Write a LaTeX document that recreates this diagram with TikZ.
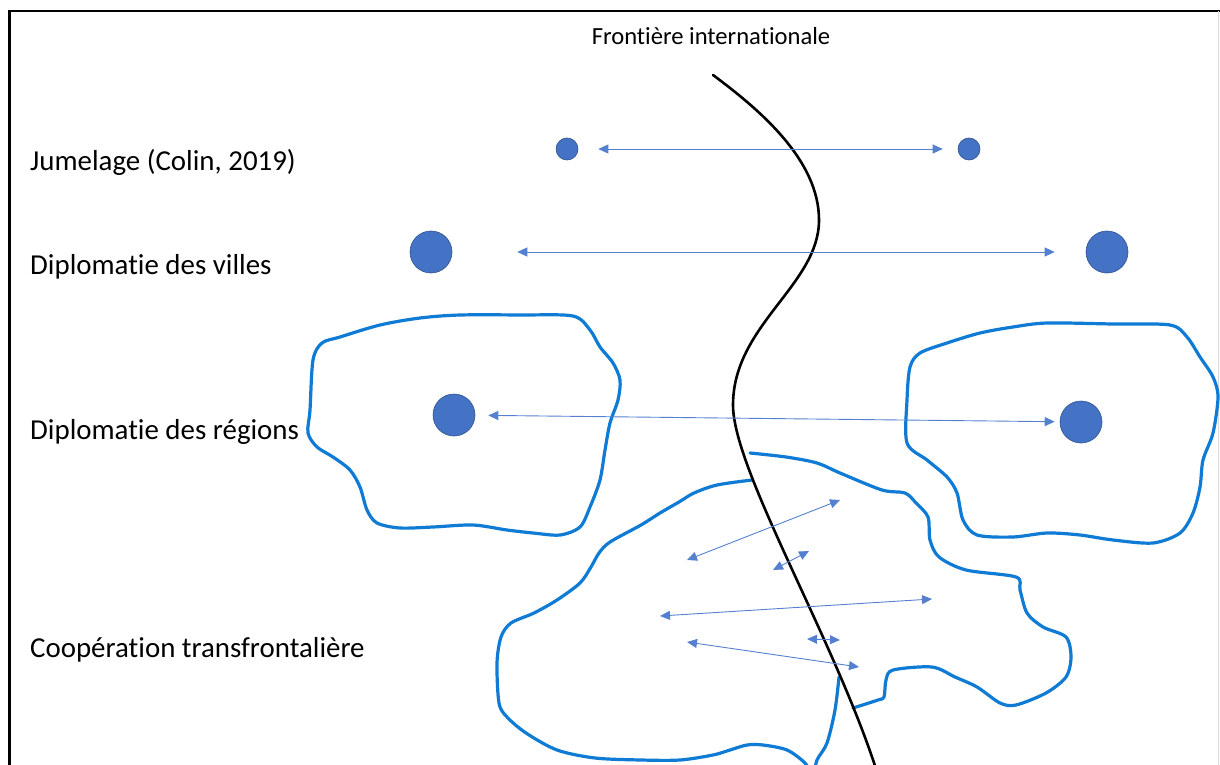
\documentclass[tikz,border=0pt]{standalone}
\usepackage{fontspec}
\setmainfont{Carlito}[Ligatures=NoCommon]
\usetikzlibrary{arrows.meta}
\definecolor{dotfill}{HTML}{4472C4}
\definecolor{dotline}{HTML}{2F528F}
\definecolor{blob}{HTML}{0F7BD4}
\definecolor{arr}{HTML}{5580D0}
\begin{document}
\begin{tikzpicture}[x=1pt,y=-1pt,
  dot/.style={circle,fill=dotfill,draw=dotline,line width=0.6pt,minimum size=#1,inner sep=0pt},
  link/.style={arr,line width=0.9pt,{Triangle[length=10pt,width=9pt]}-{Triangle[length=10pt,width=9pt]}},
  blobline/.style={blob,line width=3.2pt,line join=round,line cap=round},
  border/.style={black,line width=2.6pt,line cap=round},
  lbl/.style={anchor=base west,font=\fontsize{28.9}{33}\selectfont,inner sep=0pt},
  ttl/.style={anchor=base,font=\fontsize{24.6}{29}\selectfont,inner sep=0pt}]
\useasboundingbox (0,0) rectangle (1220,765);
\clip (0,0) rectangle (1220,765);
\fill[white] (0,0) rectangle (1220,765);
% frame
\draw[line width=2.6pt] (9.5,770) -- (9.5,11) -- (1225,11);
\draw[gray!30,line width=0.8pt] (1218.5,11) -- (1218.5,770);
% title and labels
\node[ttl] (title) at (711,45) {Frontière internationale};
\node[lbl] (ljum) at (30,170) {Jumelage (Colin, 2019)};
\node[lbl] (lvil) at (30,274) {Diplomatie des villes};
\node[lbl] (lreg) at (30,439) {Diplomatie des régions};
\node[lbl] (lcoop) at (30,657) {Coopération transfrontalière};
% region blobs
\draw[blobline] plot[smooth cycle,tension=0.5] coordinates {(322,343) (340,337) (380,325) (420,318) (460,315) (520,315) (573,316) (590,330) (600,347) (613,363) (620,380) (618,400) (610,423) (605,450) (600,480) (590,507) (580,527) (560,535) (533,533) (507,530) (473,525) (433,527) (400,528) (377,523) (367,510) (360,487) (350,470) (333,457) (317,447) (308,433) (310,410) (313,360)};
\draw[blobline] plot[smooth cycle,tension=0.5] coordinates {(920,353) (947,343) (980,333) (1013,327) (1047,323) (1113,324) (1170,325) (1187,337) (1200,357) (1213,377) (1218,397) (1213,433) (1203,460) (1200,487) (1193,513) (1180,533) (1153,543) (1113,540) (1080,535) (1047,533) (1013,537) (977,535) (963,520) (957,493) (947,477) (927,460) (907,443) (907,400) (910,367)};
% cross-border blob
\draw[blobline] plot[smooth,tension=0.5] coordinates {(750,453) (786,457) (817,463) (840,473) (882,490) (905,493) (916,503) (928,517) (930,540) (939,557) (966,570) (1016,577) (1020,590) (1027,613) (1043,627) (1066,637) (1071,657) (1066,677) (1046,693) (1016,705) (1000,703) (977,687) (955,677) (932,667) (893,670) (886,680) (884,697) (878,700) (853,708)};
\draw[blobline] plot[smooth,tension=0.5] coordinates {(752,480) (717,485) (694,493) (679,502) (660,513) (641,525) (610,542) (599,553) (591,567) (580,583) (557,600) (534,613) (511,623) (501,637) (497,663) (499,703) (507,717) (526,733) (557,750) (595,758) (641,760) (680,760) (713,755) (730,750) (747,745) (763,745) (787,750) (805,763) (812,775)};
\draw[blobline] plot[smooth,tension=0.5] coordinates {(814,775) (817,760) (827,743) (835,710) (839,677)};
% international border
\draw[border] (713,75) .. controls (760,110) and (819,160) .. (819,220)
  .. controls (819,285) and (733,325) .. (733,405)
  .. controls (733,470) and (835,640) .. (877,772);
% dots
\node[dot=22pt] (j1) at (567,149) {};
\node[dot=22pt] (j2) at (969,149) {};
\node[dot=42pt] (v1) at (431,252) {};
\node[dot=42pt] (v2) at (1107,252) {};
\node[dot=42pt] (r1) at (454,415) {};
\node[dot=42pt] (r2) at (1081,422) {};
% links
\draw[link,shorten <=20pt,shorten >=15pt] (j1) -- (j2);
\draw[link,shorten <=65pt,shorten >=31pt] (v1) -- (v2);
\draw[link,shorten <=13pt,shorten >=5pt] (r1) -- (r2);
% cross-border links
\coordinate (a1) at (687,560); \coordinate (b1) at (840,500);
\coordinate (a2) at (773,570); \coordinate (b2) at (809,551);
\coordinate (a3) at (660,616); \coordinate (b3) at (932,599);
\coordinate (a4) at (807,639); \coordinate (b4) at (840,640);
\coordinate (a5) at (687,642); \coordinate (b5) at (859,667);
\draw[link] (a1) -- (b1);
\draw[link] (a2) -- (b2);
\draw[link] (a3) -- (b3);
\draw[link] (a4) -- (b4);
\draw[link] (a5) -- (b5);
\end{tikzpicture}
\end{document}
